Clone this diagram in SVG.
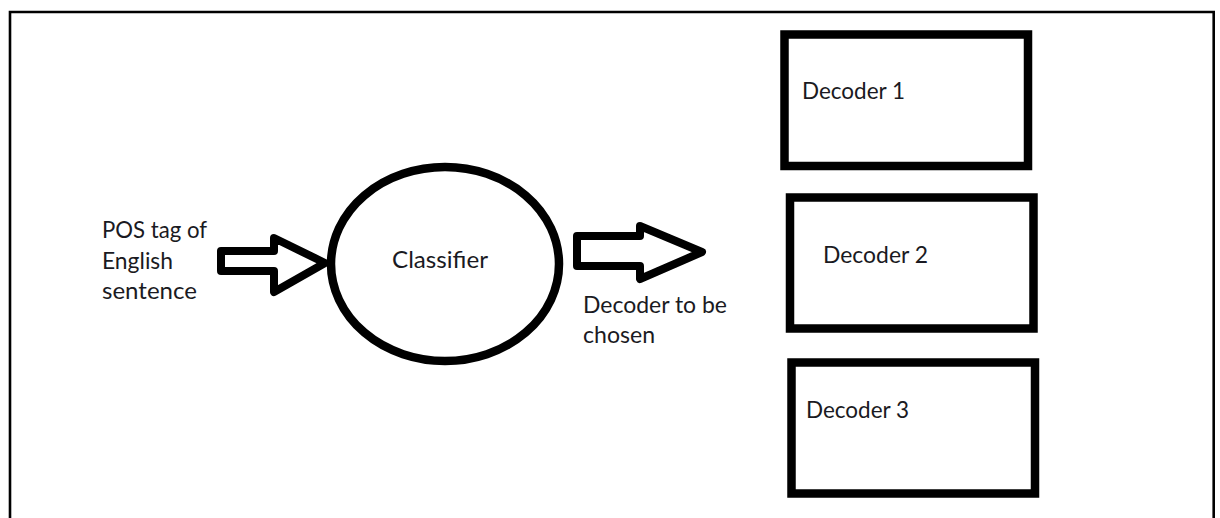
<svg xmlns="http://www.w3.org/2000/svg" width="1220" height="518" viewBox="0 0 1220 518">
  <style>
    .frame { fill: none; stroke: #000; stroke-width: 2.6; }
    .shape { fill: #fff; stroke: #000; stroke-width: 8.5; stroke-linejoin: miter; }
    .arrow { fill: #fff; stroke: #000; stroke-width: 8; stroke-linejoin: round; }
    .label { font-family: Lato, "Open Sans", sans-serif; font-size: 22.5px; fill: #1a1a22; }
  </style>
  <rect width="1220" height="518" fill="#fff"/>
  <!-- page frame, open at the bottom -->
  <path class="frame" d="M10,520 V12 H1213.7 V520"/>

  <g id="connectors">
    <g id="input-arrow">
      <path class="arrow" d="M221,251 H274 V238 L325,263 L274,292 V271 H221 Z"/>
    </g>
    <g id="output-arrow">
      <path class="arrow" d="M577,236 H640 V226 L702,252 L640,279 V266 H577 Z"/>
    </g>
  </g>

  <g id="input-label">
    <text class="label" x="102" y="237.5" textLength="105" lengthAdjust="spacingAndGlyphs">POS tag of</text>
    <text class="label" x="102" y="268.5" textLength="71" lengthAdjust="spacingAndGlyphs">English</text>
    <text class="label" x="102" y="299" textLength="95" lengthAdjust="spacingAndGlyphs">sentence</text>
  </g>

  <g id="classifier">
    <ellipse class="shape" cx="445" cy="264" rx="114" ry="97"/>
    <text class="label" x="392" y="268" textLength="96" lengthAdjust="spacingAndGlyphs">Classifier</text>
  </g>

  <g id="output-label">
    <text class="label" x="583" y="313" textLength="144" lengthAdjust="spacingAndGlyphs">Decoder to be</text>
    <text class="label" x="583" y="342.5" textLength="72" lengthAdjust="spacingAndGlyphs">chosen</text>
  </g>

  <g id="decoder-1">
    <rect class="shape" x="784.5" y="34.5" width="243.5" height="131.5"/>
    <text class="label" x="802" y="99" textLength="103" lengthAdjust="spacingAndGlyphs">Decoder 1</text>
  </g>

  <g id="decoder-2">
    <rect class="shape" x="790" y="197.5" width="243.5" height="131"/>
    <text class="label" x="823" y="263" textLength="105" lengthAdjust="spacingAndGlyphs">Decoder 2</text>
  </g>

  <g id="decoder-3">
    <rect class="shape" x="791.5" y="362.5" width="243.5" height="131"/>
    <text class="label" x="806" y="418" textLength="103" lengthAdjust="spacingAndGlyphs">Decoder 3</text>
  </g>
</svg>
